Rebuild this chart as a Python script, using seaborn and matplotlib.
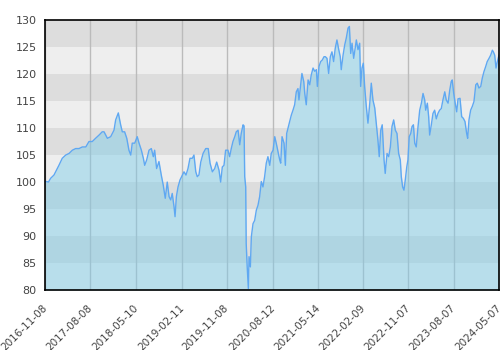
import matplotlib
matplotlib.use("Agg")
import matplotlib.pyplot as plt
import matplotlib.transforms as mtransforms
import seaborn as sns
import pandas as pd
import numpy as np

start_date = "2016-11-08"
day_offsets = [0, 9, 21, 34, 54, 74, 84, 104, 125, 145, 165, 185, 205, 225, 246, 265, 285, 305, 326, 345,
               356, 376, 396, 416, 426, 442, 456, 466, 480, 493, 506, 517, 526, 541, 556, 567, 581, 593, 601, 613,
               627, 641, 653, 661, 673, 687, 701, 713, 725, 737, 748, 758, 767, 778, 784, 792, 802, 814, 828, 838,
               850, 862, 874, 888, 898, 909, 918, 928, 939, 953, 969, 984, 995, 1009, 1023, 1035, 1049, 1059, 1069, 1079,
               1089, 1103, 1113, 1123, 1133, 1144, 1153, 1164, 1174, 1183, 1194, 1200, 1204, 1210, 1213, 1219, 1226, 1230, 1238, 1244,
               1254, 1264, 1274, 1284, 1294, 1304, 1314, 1324, 1334, 1344, 1355, 1364, 1375, 1385, 1394, 1405, 1415, 1421, 1429, 1441,
               1449, 1457, 1465, 1475, 1485, 1495, 1505, 1515, 1525, 1531, 1539, 1549, 1560, 1566, 1575, 1586, 1596, 1605, 1616, 1626,
               1636, 1642, 1652, 1662, 1672, 1682, 1690, 1700, 1710, 1720, 1730, 1740, 1750, 1760, 1771, 1780, 1786, 1797, 1807, 1816,
               1827, 1835, 1843, 1851, 1861, 1871, 1877, 1887, 1897, 1903, 1911, 1919, 1927, 1937, 1947, 1958, 1967, 1977, 1988, 1997,
               2007, 2015, 2024, 2033, 2044, 2051, 2062, 2072, 2082, 2092, 2102, 2112, 2122, 2132, 2142, 2148, 2156, 2164, 2172, 2181,
               2188, 2196, 2205, 2213, 2221, 2229, 2238, 2249, 2259, 2269, 2279, 2289, 2295, 2305, 2313, 2319, 2329, 2339, 2349, 2359,
               2369, 2379, 2389, 2399, 2410, 2419, 2430, 2440, 2449, 2455, 2464, 2473, 2482, 2490, 2502, 2512, 2522, 2532, 2542, 2548,
               2556, 2566, 2576, 2586, 2597, 2606, 2616, 2627, 2636, 2646, 2657, 2666, 2677, 2687, 2697, 2703, 2711, 2719, 2727, 2737]
values = [100.0, 100.1, 100.0, 100.7, 101.3, 102.5, 103.1, 104.4, 105.0, 105.3, 105.9, 106.2, 106.2, 106.5, 106.5, 107.5, 107.5, 108.1, 108.7, 109.3,
          109.3, 108.1, 108.4, 109.6, 111.5, 112.8, 110.6, 109.3, 109.3, 108.1, 105.9, 105.0, 107.2, 107.2, 108.4, 107.2, 105.9, 104.4, 103.1, 104.1,
          105.9, 106.2, 104.7, 105.9, 102.5, 103.8, 101.3, 99.4, 97.0, 100.0, 97.3, 96.7, 97.9, 95.4, 93.6, 97.3, 99.1, 100.4, 101.3, 101.9,
          101.3, 102.5, 104.4, 104.4, 105.0, 101.9, 101.0, 101.3, 103.7, 105.3, 106.2, 106.2, 103.5, 101.9, 102.5, 103.7, 102.2, 100.0, 102.8, 103.1,
          105.9, 105.9, 104.7, 106.2, 107.5, 108.4, 109.3, 109.6, 106.9, 109.0, 110.6, 110.4, 101.0, 99.1, 88.6, 84.3, 80.3, 86.2, 84.3, 89.9,
          92.3, 92.9, 94.8, 95.7, 97.3, 100.1, 99.1, 101.0, 103.5, 104.7, 103.1, 105.3, 105.9, 108.4, 107.2, 105.6, 104.1, 103.5, 108.4, 107.2,
          103.1, 109.0, 110.0, 111.2, 112.4, 113.3, 114.3, 116.7, 117.3, 115.2, 117.3, 120.1, 118.6, 116.4, 114.3, 118.9, 118.0, 119.8, 121.1, 120.5,
          120.8, 117.7, 121.4, 122.3, 122.6, 123.2, 123.2, 122.9, 120.1, 123.2, 124.1, 122.3, 124.8, 126.3, 124.5, 123.2, 120.8, 123.5, 125.4, 126.6,
          128.5, 128.8, 123.8, 125.7, 122.9, 125.1, 126.3, 124.5, 125.7, 117.7, 121.1, 122.0, 117.7, 114.0, 110.9, 114.6, 118.3, 115.2, 113.7, 110.9,
          107.8, 104.7, 109.6, 110.6, 104.1, 101.6, 105.3, 104.7, 106.5, 110.3, 111.5, 109.6, 109.0, 105.3, 104.1, 101.0, 99.1, 98.5, 100.4, 102.8,
          104.1, 108.4, 109.0, 110.3, 110.6, 107.2, 106.5, 110.3, 113.3, 114.6, 116.4, 115.2, 113.3, 114.6, 112.1, 108.7, 110.6, 112.7, 113.3, 111.7,
          112.7, 113.3, 113.6, 115.2, 116.7, 115.2, 114.6, 117.0, 118.6, 118.9, 116.4, 114.6, 113.0, 115.4, 115.5, 112.1, 111.8, 111.2, 109.0, 108.1,
          111.5, 113.3, 114.0, 114.9, 118.0, 118.3, 117.4, 117.7, 119.2, 120.4, 121.4, 122.3, 122.9, 123.5, 124.4, 124.1, 123.5, 121.1, 122.3, 123.5]
tick_labels = ["2016-11-08", "2017-08-08", "2018-05-10", "2019-02-11", "2019-11-08", "2020-08-12",
               "2021-05-14", "2022-02-09", "2022-11-07", "2023-08-07", "2024-05-07"]
y_ticks = [80, 85, 90, 95, 100, 105, 110, 115, 120, 125, 130]

df = pd.DataFrame({
    "date": pd.Timestamp(start_date) + pd.to_timedelta(day_offsets, unit="D"),
    "value": values,
})

sns.set_theme(style="white")
plt.rcParams['font.family'] = ['DejaVu Sans']

fig = plt.figure(figsize=(5, 3.5), dpi=100)
ax = fig.add_axes([0.09, 0.171, 0.908, 0.772])

# alternating bands
for i, lo in enumerate(y_ticks[:-1]):
    ax.axhspan(lo, lo + 5, color="#eeeeee" if i % 2 == 0 else "#dddddd", zorder=0, lw=0)

tick_dates = pd.to_datetime(tick_labels)
for d in tick_dates:
    ax.axvline(d, color="#bbbbbb", lw=1, zorder=1)

ax.fill_between(df["date"], df["value"], 80, color="#7dcce9", alpha=0.47, lw=0, zorder=2)
sns.lineplot(data=df, x="date", y="value", ax=ax, color="#5fa8f2", lw=1, zorder=3)

ax.set_xlim(tick_dates[0], tick_dates[-1])
ax.set_ylim(80, 130)
ax.set_yticks(y_ticks)
ax.set_yticklabels([str(t) for t in y_ticks], fontsize=8, color="#444444")
ax.set_xticks(tick_dates)
ax.set_xticklabels(tick_labels, rotation=45, ha="right", va="top", rotation_mode="anchor",
                   fontsize=7.5, color="#444444")
ax.tick_params(axis="y", length=0, pad=6)
ax.tick_params(axis="x", length=0, pad=9)
shift = mtransforms.ScaledTranslation(-3 / 100, 0, fig.dpi_scale_trans)
for lbl in ax.get_xticklabels():
    lbl.set_transform(lbl.get_transform() + shift)
ax.set_xlabel("")
ax.set_ylabel("")
for s in ax.spines.values():
    s.set_color("black")
    s.set_linewidth(1.2)
    s.set_zorder(5)

fig.savefig("out.png", dpi=100)
